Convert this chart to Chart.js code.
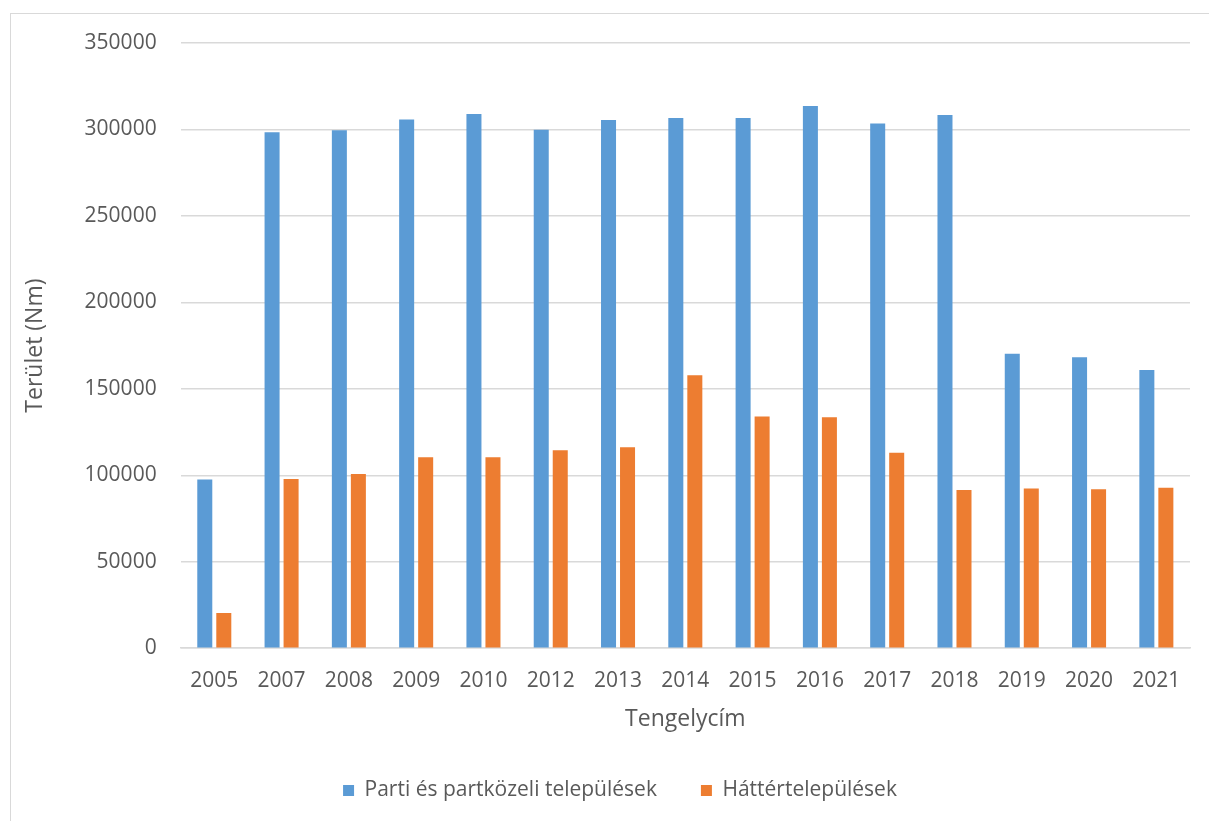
<!DOCTYPE html>
<html>
<head>
<meta charset="utf-8">
<script src="https://cdn.jsdelivr.net/npm/chart.js@4"></script>
<style>
  html, body { margin: 0; padding: 0; background: #fff; }
  #wrap { position: relative; width: 1209px; height: 821px; overflow: hidden; }
  #frame { position: absolute; left: 10px; top: 13px; width: 1205px; height: 820px; border: 1.5px solid #d9d9d9; box-sizing: border-box; }
  #chart { position: absolute; left: 0; top: 0; }
</style>
</head>
<body>
<div id="wrap">
  <div id="frame"></div>
  <canvas id="chart" width="1209" height="821"></canvas>
</div>
<script>
// categories
const years = ['2005', '2007', '2008', '2009', '2010', '2012', '2013', '2014', '2015', '2016', '2017', '2018', '2019', '2020', '2021'];

// series values
const partiValues = [97500, 298400, 299600, 305800, 308900, 299800, 305400, 306600, 306600, 313500, 303500, 308300, 170300, 168300, 160900];
const hatterValues = [20400, 97900, 100700, 110400, 110400, 114500, 116200, 157900, 134000, 133600, 113100, 91500, 92300, 91900, 92800];

// y axis ticks
const yMax = 350000;
const yStep = 50000;

const textColor = '#595959';
const gridColor = '#d9d9d9';
const fontFamily = "'Open Sans', 'Noto Sans', sans-serif";

// nudge the legend a bit to the right, like in the original
const legendShift = {
  id: 'legendShift',
  afterLayout(chart) {
    chart.legend.left += 14;
    chart.legend.right += 14;
  }
};

const ctx = document.getElementById('chart').getContext('2d');

const chart = new Chart(ctx, {
  type: 'bar',
  data: {
    labels: years,
    datasets: [
      {
        label: 'Parti és partközeli települések',
        data: partiValues,
        backgroundColor: '#5B9BD5',
        borderWidth: 0
      },
      {
        label: 'Háttértelepülések',
        data: hatterValues,
        backgroundColor: '#ED7D31',
        borderWidth: 0
      }
    ]
  },
  options: {
    responsive: false,
    animation: false,
    datasets: {
      bar: {
        categoryPercentage: 0.565,
        barPercentage: 0.79
      }
    },
    layout: {
      padding: { left: 22, right: 19, top: 43, bottom: 10 }
    },
    plugins: {
      legend: {
        position: 'bottom',
        labels: {
          color: textColor,
          font: { family: fontFamily, size: 21 },
          boxWidth: 11,
          boxHeight: 11,
          padding: 44
        }
      },
      tooltip: { enabled: false }
    },
    scales: {
      x: {
        grid: { display: false },
        border: { display: true, color: gridColor, width: 1.5 },
        ticks: {
          color: textColor,
          font: { family: fontFamily, size: 21 },
          padding: 12,
          maxRotation: 0
        },
        title: {
          display: true,
          text: 'Tengelycím',
          color: textColor,
          font: { family: fontFamily, size: 23 },
          padding: { top: 0, bottom: 3 }
        }
      },
      y: {
        min: 0,
        max: yMax,
        grid: { color: gridColor, lineWidth: 1.5, drawTicks: false },
        border: { display: false },
        ticks: {
          stepSize: yStep,
          color: textColor,
          font: { family: fontFamily, size: 21 },
          padding: 24,
          callback: (value) => String(value)
        },
        title: {
          display: true,
          text: 'Terület (Nm)',
          color: textColor,
          font: { family: fontFamily, size: 23 },
          padding: { top: 0, bottom: 11 }
        }
      }
    }
  },
  plugins: [legendShift]
});
</script>
</body>
</html>
